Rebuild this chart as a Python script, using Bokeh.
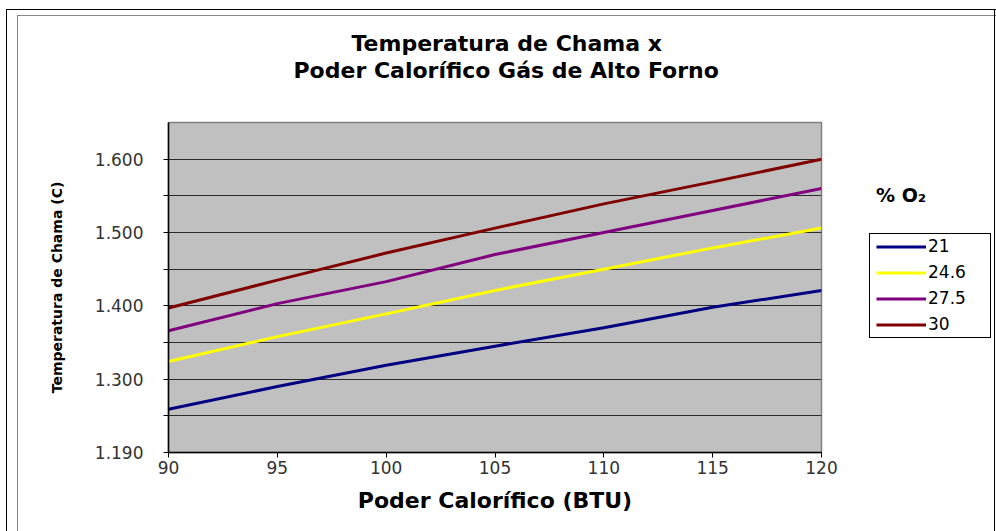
from bokeh.plotting import figure
from bokeh.layouts import row
from bokeh.models import FixedTicker, Legend, LegendItem, Range1d, Title
from bokeh.embed import file_html
from bokeh.resources import INLINE

# ---- data ----
poder = [90, 95, 100, 105, 110, 115, 120]
o2_21 = [1259, 1290, 1319, 1345, 1370, 1398, 1421]
o2_246 = [1324, 1358, 1389, 1421, 1450, 1479, 1506]
o2_275 = [1366, 1403, 1433, 1470, 1500, 1530, 1560]
o2_30 = [1397, 1435, 1472, 1506, 1539, 1569, 1600]
series_names = ["21", "24.6", "27.5", "30"]
series_values = [o2_21, o2_246, o2_275, o2_30]
colors = ["#000080", "#FFFF00", "#800080", "#800000"]

x_ticks = [90, 95, 100, 105, 110, 115, 120]
y_ticks = [1200, 1250, 1300, 1350, 1400, 1450, 1500, 1550, 1600]
y_tick_labels = ["1.190", "", "1.300", "", "1.400", "", "1.500", "", "1.600"]

title_lines = ["Temperatura de Chama x", "Poder Calorífico Gás de Alto Forno"]
x_title = "Poder Calorífico (BTU)"
y_title = "Temperatura de Chama (C)"
legend_title = "% O\u2082"

FONT = "DejaVu Sans"

# ---------------- main chart ----------------
p = figure(width=869, height=531, output_backend="svg", toolbar_location=None,
           x_range=Range1d(90, 120), y_range=Range1d(1200, 1650),
           min_border_left=168, min_border_right=48, min_border_top=122,
           min_border_bottom=79)

p.background_fill_color = "#C0C0C0"
p.border_fill_color = None
p.outline_line_color = "#808080"
p.outline_line_width = 1.5

p.xaxis.ticker = FixedTicker(ticks=x_ticks)
p.yaxis.ticker = FixedTicker(ticks=y_ticks)
p.yaxis.major_label_overrides = {t: l for t, l in zip(y_ticks, y_tick_labels)}
p.xaxis.major_label_overrides = {t: str(t) for t in x_ticks}
for ax in (p.xaxis[0], p.yaxis[0]):
    ax.axis_line_color = "black"
    ax.axis_line_width = 1.5
    ax.major_tick_line_color = "black"
    ax.major_tick_out = 5
    ax.major_tick_in = 0
    ax.minor_tick_line_color = None
    ax.major_label_text_font = FONT
    ax.major_label_text_font_size = "17px"
    ax.major_label_text_color = "#333333"
    ax.axis_label_text_font = FONT
    ax.axis_label_text_font_style = "bold"
    ax.axis_label_text_color = "black"
p.xaxis.major_label_standoff = 3
p.yaxis.major_label_standoff = 20
p.xaxis.axis_label = x_title
p.xaxis.axis_label_text_font_size = "22px"
p.xaxis.axis_label_standoff = 11
p.yaxis.axis_label = y_title
p.yaxis.axis_label_text_font_size = "14px"
p.yaxis.axis_label_standoff = 27

p.xgrid.grid_line_color = None
p.ygrid.ticker = FixedTicker(ticks=y_ticks)
p.ygrid.grid_line_color = "#2a2a2a"
p.ygrid.grid_line_width = 1

for name, vals, col in zip(series_names, series_values, colors):
    p.line(poder, vals, line_color=col, line_width=3)

# titles (first added sits nearest the frame)
p.add_layout(Title(text=title_lines[1], align="left", offset=125, standoff=80,
                   vertical_align="bottom", text_font=FONT, text_font_style="bold",
                   text_font_size="22px", text_color="black"), "above")
p.add_layout(Title(text=title_lines[0], align="left", offset=183, standoff=-80,
                   vertical_align="bottom", text_font=FONT, text_font_style="bold",
                   text_font_size="22px", text_color="black"), "above")

# ---------------- legend strip (same series, kept outside its view) ----------------
lg = figure(width=127, height=531, output_backend="svg", toolbar_location=None,
            x_range=Range1d(0, 1), y_range=Range1d(0, 1),
            min_border=0, min_border_left=0, min_border_right=0,
            min_border_top=0, min_border_bottom=0)
lg.axis.visible = False
lg.grid.visible = False
lg.outline_line_color = None
lg.background_fill_color = None
lg.border_fill_color = None

items = []
for name, vals, col in zip(series_names, series_values, colors):
    r = lg.line(poder, vals, line_color=col, line_width=3)
    items.append(LegendItem(label=name, renderers=[r]))

# the strip's frame lines up with the chart's frame (y 122..452)
legend = Legend(items=items, location=(7, 118), orientation="vertical",
                title=legend_title, title_text_font=FONT, title_text_font_style="bold",
                title_text_font_size="19px", title_text_color="black", title_standoff=30,
                border_line_color=None, background_fill_alpha=0,
                padding=7, spacing=6, glyph_height=19, glyph_width=50,
                label_height=19, label_width=59, label_standoff=2,
                label_text_font=FONT, label_text_font_size="17px",
                label_text_color="black", margin=0)
lg.add_layout(legend)

# page frame lines and the legend box, drawn as CSS backgrounds of the layout element
lines = [
    ("#000", "6px 9px", "1px 100%"),       # outer frame, left
    ("#000", "6px 9px", "100% 1px"),       # outer frame, top
    ("#000", "994px 9px", "1px 100%"),     # outer frame, right
    ("#888", "17px 15px", "1px 100%"),     # inner frame, left
    ("#888", "17px 15px", "100% 1px"),     # inner frame, top
    ("#000", "869px 233px", "1px 105px"),  # legend box, left
    ("#000", "990px 233px", "1px 105px"),  # legend box, right
    ("#000", "869px 233px", "122px 1px"),  # legend box, top
    ("#000", "869px 337px", "122px 1px"),  # legend box, bottom
]
layout = row(p, lg, spacing=0)
layout.styles = {
    "background-color": "white",
    "background-image": ", ".join(f"linear-gradient({c},{c})" for c, _, _ in lines),
    "background-position": ", ".join(pos for _, pos, _ in lines),
    "background-size": ", ".join(sz for _, _, sz in lines),
    "background-repeat": "no-repeat",
}

open("out.html", "w").write(file_html(layout, INLINE))
